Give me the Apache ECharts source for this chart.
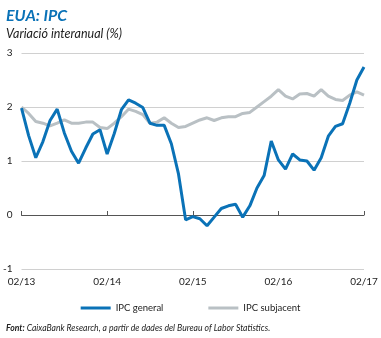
<!DOCTYPE html>
<html>
<head>
<meta charset="utf-8">
<script src="https://cdn.jsdelivr.net/npm/echarts@6/dist/echarts.min.js"></script>
<style>
html,body{margin:0;padding:0;background:#fff;}
#chart{width:381px;height:338px;}
</style>
</head>
<body>
<div id="chart"></div>
<script>
// Months Feb 2013 .. Feb 2017
const categories = [
  '02/13','03/13','04/13','05/13','06/13','07/13','08/13','09/13','10/13','11/13','12/13','01/14',
  '02/14','03/14','04/14','05/14','06/14','07/14','08/14','09/14','10/14','11/14','12/14','01/15',
  '02/15','03/15','04/15','05/15','06/15','07/15','08/15','09/15','10/15','11/15','12/15','01/16',
  '02/16','03/16','04/16','05/16','06/16','07/16','08/16','09/16','10/16','11/16','12/16','01/17',
  '02/17'
];
const ipcGeneral = [
  1.98,1.47,1.06,1.36,1.75,1.96,1.52,1.18,0.96,1.24,1.50,1.58,
  1.13,1.51,1.95,2.13,2.07,1.99,1.70,1.66,1.66,1.32,0.76,-0.09,
  -0.03,-0.07,-0.20,-0.04,0.12,0.17,0.20,-0.04,0.17,0.50,0.73,1.37,
  1.02,0.85,1.13,1.02,1.00,0.83,1.06,1.46,1.64,1.69,2.07,2.50,
  2.74
];
const ipcSubjacent = [
  2.00,1.88,1.73,1.70,1.65,1.70,1.76,1.70,1.70,1.72,1.72,1.62,
  1.60,1.70,1.82,1.96,1.92,1.86,1.70,1.72,1.80,1.70,1.62,1.64,
  1.70,1.76,1.80,1.75,1.80,1.82,1.82,1.88,1.90,2.00,2.10,2.20,
  2.32,2.20,2.15,2.24,2.25,2.20,2.32,2.20,2.14,2.12,2.22,2.28,
  2.22
];
const yTicks = {min: -1, max: 3, interval: 1};
const seriesNames = ['IPC general', 'IPC subjacent'];

const BLUE = '#0a72b7';
const GRAY = '#b9c0c4';
const FONT = 'Lato';

const chart = echarts.init(document.getElementById('chart'), null, {renderer: 'canvas'});
chart.setOption({
  animation: false,
  textStyle: {fontFamily: FONT},
  title: [
    {text: 'EUA: IPC', left: 1, top: 3,
     textStyle: {fontFamily: FONT, fontSize: 16, fontWeight: 'bold', fontStyle: 'italic', color: BLUE}},
    {text: 'Variació interanual (%)', left: 1, top: 22,
     textStyle: {fontFamily: FONT, fontSize: 12.5, fontWeight: 'normal', fontStyle: 'italic', color: '#222'}},
    {text: '{b|Font:} CaixaBank Research, a partir de dades del Bureau of Labor Statistics.', left: 1, top: 319,
     textStyle: {fontFamily: FONT, fontSize: 8.6, fontStyle: 'italic', fontWeight: 'normal', color: '#222',
       rich: {b: {fontFamily: FONT, fontSize: 8.6, fontStyle: 'italic', fontWeight: 'bold', color: '#222'}}}}
  ],
  legend: {
    data: seriesNames,
    top: 298,
    left: 'center',
    itemWidth: 30,
    itemHeight: 3,
    itemGap: 45,
    icon: 'rect',
    textStyle: {fontFamily: FONT, fontSize: 9.5, color: '#222'}
  },
  grid: {left: 20, right: 17, top: 53, bottom: 69, containLabel: false},
  xAxis: [
    {type: 'category', data: categories, boundaryGap: false,
     axisLine: {onZero: true, lineStyle: {color: '#555', width: 1}},
     axisTick: {show: true, inside: true, length: 4, interval: 11, lineStyle: {color: '#555'}},
     axisLabel: {show: false},
     splitLine: {show: false}},
    {type: 'category', data: categories, boundaryGap: false, position: 'bottom',
     axisLine: {show: false, onZero: false},
     axisTick: {show: false},
     axisLabel: {show: true, interval: 11, margin: 8, fontFamily: FONT, fontSize: 10, color: '#222'},
     splitLine: {show: false}}
  ],
  yAxis: {
    type: 'value', min: yTicks.min, max: yTicks.max, interval: yTicks.interval,
    axisLine: {show: false}, axisTick: {show: false},
    axisLabel: {margin: 9, fontFamily: FONT, fontSize: 10, color: '#222'},
    splitLine: {lineStyle: {color: ['#d0d0d0','rgba(0,0,0,0)','#d0d0d0','#d0d0d0','#d0d0d0'], width: 1}}
  },
  series: [
    {name: seriesNames[1], type: 'line', data: ipcSubjacent, xAxisIndex: 0, symbol: 'none',
     lineStyle: {color: GRAY, width: 3}, itemStyle: {color: GRAY}, z: 2},
    {name: seriesNames[0], type: 'line', data: ipcGeneral, xAxisIndex: 0, symbol: 'none',
     lineStyle: {color: BLUE, width: 3}, itemStyle: {color: BLUE}, z: 3}
  ]
});
</script>
</body>
</html>
